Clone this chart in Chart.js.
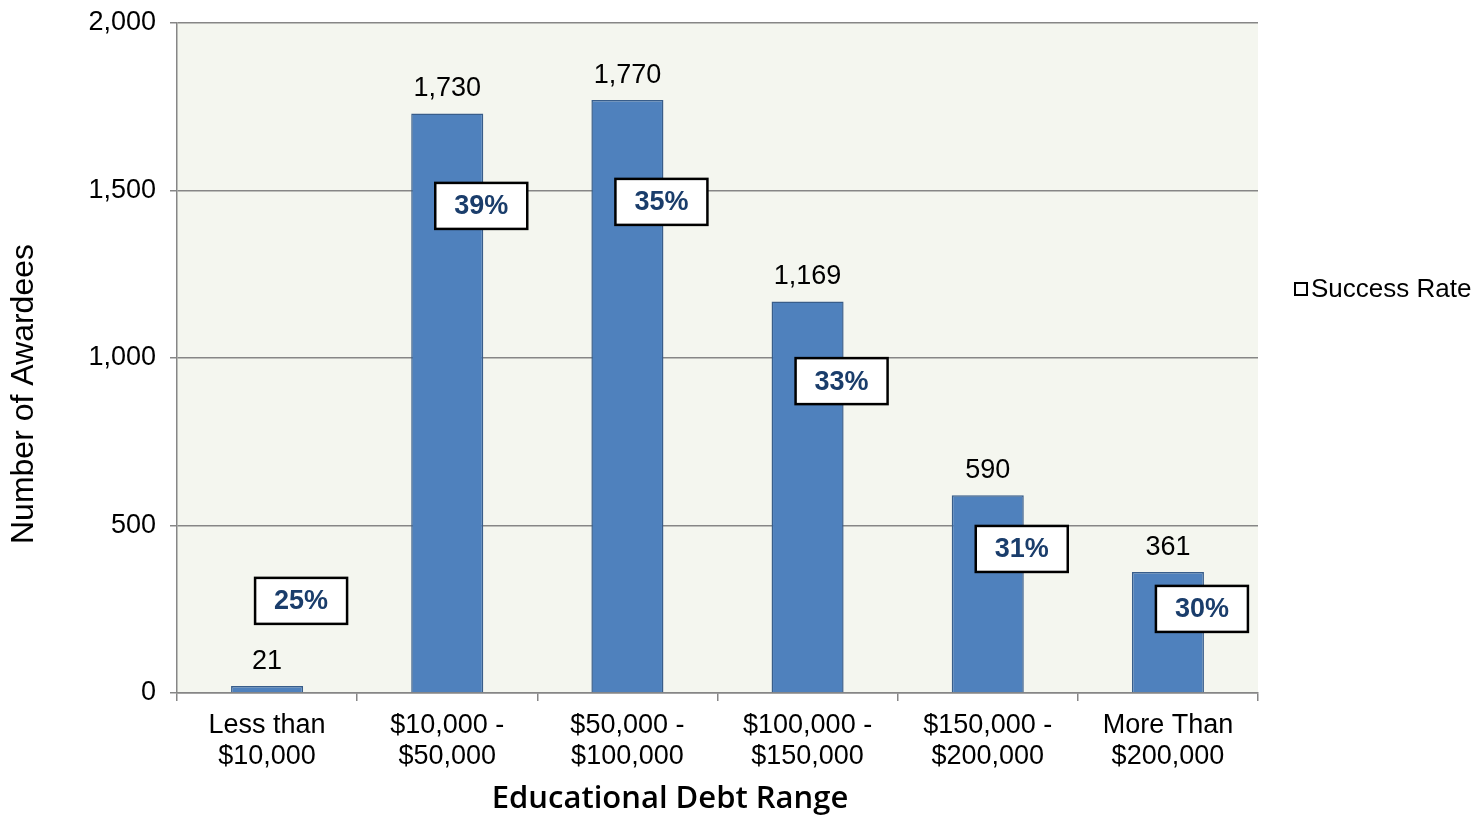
<!DOCTYPE html>
<html>
<head>
<meta charset="utf-8">
<script src="https://cdn.jsdelivr.net/npm/chart.js@4"></script>
<style>
  html, body { margin: 0; padding: 0; background: #fff; }
  #wrap { width: 1476px; height: 816px; }
</style>
</head>
<body>
<div id="wrap"><canvas id="myChart"></canvas></div>
<script>
var categories = [['Less than', '$10,000'], ['$10,000 -', '$50,000'], ['$50,000 -', '$100,000'],
                  ['$100,000 -', '$150,000'], ['$150,000 -', '$200,000'], ['More Than', '$200,000']];
var awardees = [21, 1730, 1770, 1169, 590, 361];
var successRate = [25, 39, 35, 33, 31, 30];
// where each success-rate box sits, in awardee units
var successLabelY = [275, 1454, 1466, 931, 430, 251];
var yTicks = [0, 500, 1000, 1500, 2000];

var FONT = '"Liberation Sans", Arial, sans-serif';

var extras = {
    id: 'extras',
    beforeDraw: function (chart) {
        var c = chart.ctx, a = chart.chartArea;
        c.save();
        c.fillStyle = '#F4F6EF';
        c.fillRect(a.left, a.top, a.right - a.left, a.bottom - a.top);
        c.restore();
    },
    afterDraw: function (chart) {
        var c = chart.ctx;
        var bars = chart.getDatasetMeta(0).data;
        var ys = chart.scales.y;
        c.save();
        // value labels over bars
        c.font = '27px ' + FONT;
        c.fillStyle = '#000';
        c.textAlign = 'center';
        c.textBaseline = 'bottom';
        bars.forEach(function (b, i) {
            c.fillText(awardees[i].toLocaleString('en-US'), b.x, b.y - 11);
        });
        // success rate boxes
        bars.forEach(function (b, i) {
            var cx = b.x + 34, cy = ys.getPixelForValue(successLabelY[i]);
            c.fillStyle = '#fff';
            c.fillRect(cx - 46, cy - 23, 92, 46);
            c.lineWidth = 2.5;
            c.strokeStyle = '#000';
            c.strokeRect(cx - 46, cy - 23, 92, 46);
            c.font = 'bold 27px ' + FONT;
            c.fillStyle = '#1A3D6B';
            c.textBaseline = 'middle';
            c.fillText(successRate[i] + '%', cx, cy + 1);
        });
        // axis titles
        c.fillStyle = '#000';
        c.font = '600 31px "Open Sans", sans-serif';
        c.textAlign = 'center';
        c.textBaseline = 'middle';
        c.fillText('Educational Debt Range', 670, 799);
        c.save();
        c.translate(24, 394);
        c.rotate(-Math.PI / 2);
        c.font = '32px ' + FONT;
        c.fillText('Number of Awardees', 0, 0);
        c.restore();
        // legend
        c.lineWidth = 2;
        c.strokeStyle = '#000';
        c.strokeRect(1295, 283, 12, 12);
        c.font = '26px ' + FONT;
        c.textAlign = 'left';
        c.fillText(chart.data.datasets[1].label, 1311, 290);
        c.restore();
    }
};

var ctx = document.getElementById('myChart').getContext('2d');
var myChart = new Chart(ctx, {
    type: 'bar',
    data: {
        labels: categories,
        datasets: [{
            label: 'Number of Awardees',
            data: awardees,
            backgroundColor: '#4F81BD',
            borderColor: '#385D8A',
            borderWidth: 1.5,
            categoryPercentage: 0.8,
            barPercentage: 0.5
        }, {
            type: 'line',
            label: 'Success Rate',
            data: successLabelY,
            showLine: false,
            pointRadius: 0,
            pointHoverRadius: 0
        }]
    },
    options: {
        responsive: true,
        maintainAspectRatio: false,
        animation: false,
        events: [],
        layout: { padding: { top: 23, right: 218, left: 0, bottom: 0 } },
        plugins: { legend: { display: false }, tooltip: { enabled: false } },
        scales: {
            x: {
                offset: true,
                grid: { offset: true, drawOnChartArea: false, drawTicks: true, tickLength: 8, color: '#868686', lineWidth: 1.5 },
                border: { color: '#868686', width: 1.5 },
                ticks: { color: '#000', font: { family: FONT, size: 27, lineHeight: 1.15 }, padding: 9, maxRotation: 0, autoSkip: false },
                afterFit: function (s) { s.height = 123; s.paddingLeft = 0; s.paddingRight = 0; }
            },
            y: {
                min: 0,
                max: 2000,
                afterBuildTicks: function (s) { s.ticks = yTicks.map(function (v) { return { value: v }; }); },
                grid: { color: '#868686', lineWidth: 1.5, tickLength: 7 },
                border: { color: '#868686', width: 1.5 },
                ticks: {
                    color: '#000', font: { family: FONT, size: 27 }, padding: 14,
                    callback: function (v) { return v.toLocaleString('en-US'); }
                },
                afterFit: function (s) { s.width = 177; s.paddingTop = 0; s.paddingBottom = 0; }
            }
        }
    },
    plugins: [extras]
});
</script>
</body>
</html>
